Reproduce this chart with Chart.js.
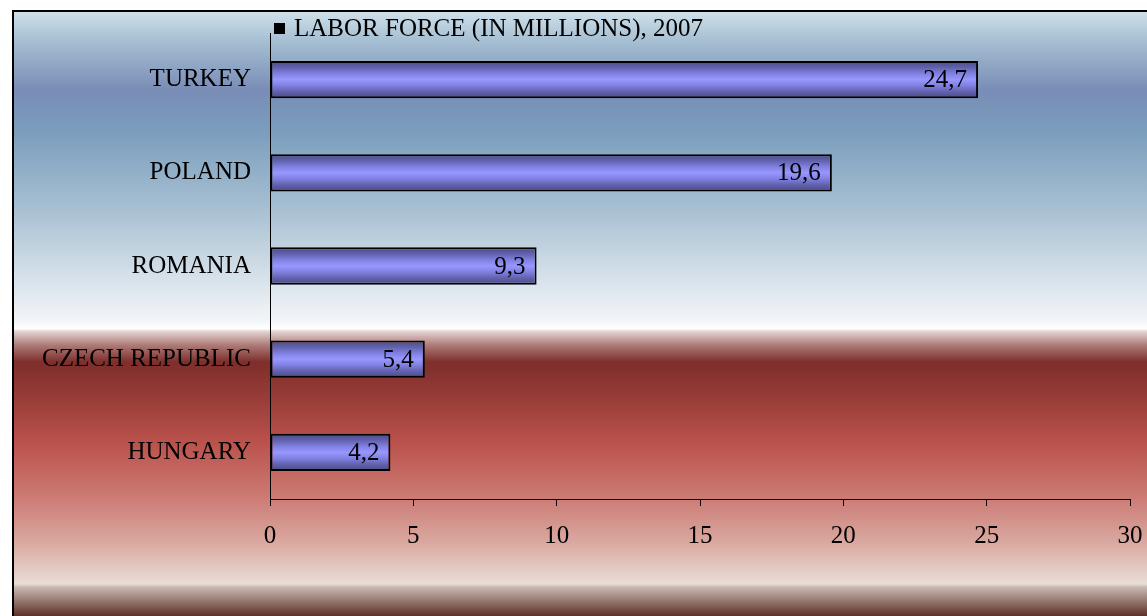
<!DOCTYPE html>
<html>
<head>
<meta charset="utf-8">
<script src="https://cdn.jsdelivr.net/npm/chart.js@4.4.1/dist/chart.umd.min.js"></script>
<style>
html,body{margin:0;padding:0;background:#ffffff;}
#wrap{position:relative;width:1147px;height:616px;}
</style>
</head>
<body>
<div id="wrap"><canvas id="c" width="1147" height="616"></canvas></div>
<script>
const categories = ['TURKEY', 'POLAND', 'ROMANIA', 'CZECH REPUBLIC', 'HUNGARY'];
const laborForce = [24.7, 19.6, 9.3, 5.4, 4.2];
const seriesName = 'LABOR FORCE (IN MILLIONS), 2007';
const xTickMin = 0, xTickMax = 30, xTickStep = 5;

const FONT = "'Liberation Serif', 'Times New Roman', serif";
const FSIZE = 25;

const bgPlugin = {
  id: 'bg',
  beforeDraw(chart) {
    const c = chart.ctx;
    const top = 10, left = 12, W = chart.width, H = chart.height;
    const g = c.createLinearGradient(0, top, 0, H);
    const h = H - top;
    const st = (y, col) => g.addColorStop(Math.min(1, Math.max(0, (y - top) / h)), col);
    st(11, '#d0e0eb');
    st(40, '#a7c0d3');
    st(90, '#798db6');
    st(130, '#7a9dbd');
    st(210, '#a8c0d2');
    st(277, '#d6e1ea');
    st(320, '#f2f5f8');
    st(329, '#ffffff');
    st(331, '#e6d6d4');
    st(345, '#ad7c78');
    st(362, '#7e2e2b');
    st(400, '#9a3d39');
    st(443, '#bb524c');
    st(497, '#cc7b74');
    st(543, '#d9a9a1');
    st(584, '#e9ddd7');
    st(587, '#c9bab2');
    st(616, '#5e2f28');
    c.save();
    c.fillStyle = g;
    c.fillRect(left, top, W - left, H - top);
    c.fillStyle = '#000';
    c.fillRect(left, top, W - left, 2);
    c.fillRect(left, top, 2, H - top);
    c.restore();
  }
};

const labelPlugin = {
  id: 'vals',
  afterDatasetsDraw(chart) {
    const c = chart.ctx;
    const meta = chart.getDatasetMeta(0);
    c.save();
    c.font = FSIZE + 'px ' + FONT;
    c.fillStyle = '#000';
    c.textAlign = 'right';
    c.textBaseline = 'middle';
    meta.data.forEach((bar, i) => {
      const txt = String(laborForce[i]).replace('.', ',');
      c.fillText(txt, bar.x - 11, bar.y + 1);
    });
    c.restore();
  }
};

const legendPlugin = {
  id: 'leg',
  afterDraw(chart) {
    const c = chart.ctx;
    c.save();
    c.fillStyle = '#000';
    c.fillRect(274, 23, 11, 11);
    c.font = FSIZE + 'px ' + FONT;
    c.textAlign = 'left';
    c.textBaseline = 'alphabetic';
    c.fillText(seriesName, 294, 36);
    c.restore();
  }
};

function barGradient(ctx) {
  const chart = ctx.chart;
  const ys = chart.scales && chart.scales.y;
  if (!chart.chartArea || !ys || ctx.dataIndex === undefined) return '#9494ff';
  const cy = ys.getPixelForValue(ctx.dataIndex);
  const half = 18.6;
  const g = chart.ctx.createLinearGradient(0, cy - half, 0, cy + half);
  g.addColorStop(0, '#4a4a80');
  g.addColorStop(0.18, '#6262b0');
  g.addColorStop(0.35, '#8282e4');
  g.addColorStop(0.5, '#9797ff');
  g.addColorStop(0.65, '#8282e4');
  g.addColorStop(0.82, '#6262b0');
  g.addColorStop(1, '#4a4a80');
  return g;
}

new Chart(document.getElementById('c'), {
  type: 'bar',
  data: {
    labels: categories,
    datasets: [{
      label: seriesName,
      data: laborForce,
      backgroundColor: barGradient,
      borderColor: '#000',
      borderWidth: 2,
      borderSkipped: false,
      barPercentage: 0.4,
      categoryPercentage: 1.0
    }]
  },
  options: {
    indexAxis: 'y',
    responsive: false,
    animation: false,
    devicePixelRatio: 1,
    layout: { padding: { left: 0, right: 17, top: 33, bottom: 0 } },
    plugins: { legend: { display: false }, tooltip: { enabled: false } },
    scales: {
      x: {
        min: xTickMin, max: xTickMax,
        ticks: { stepSize: xTickStep, color: '#000', font: { family: FONT, size: FSIZE }, padding: 15 },
        grid: { drawOnChartArea: false, drawTicks: true, tickLength: 7, color: '#000', lineWidth: 1 },
        border: { display: true, color: '#000', width: 1 },
        afterFit(s) { s.height = 117; s.paddingLeft = 0; s.paddingRight = 0; }
      },
      y: {
        ticks: { color: '#000', font: { family: FONT, size: FSIZE }, padding: 19 },
        grid: { display: false, drawTicks: false },
        border: { display: true, color: '#000', width: 1 },
        afterFit(s) { s.width = 270; s.paddingTop = 0; s.paddingBottom = 0; }
      }
    }
  },
  plugins: [bgPlugin, labelPlugin, legendPlugin]
});
</script>
</body>
</html>
